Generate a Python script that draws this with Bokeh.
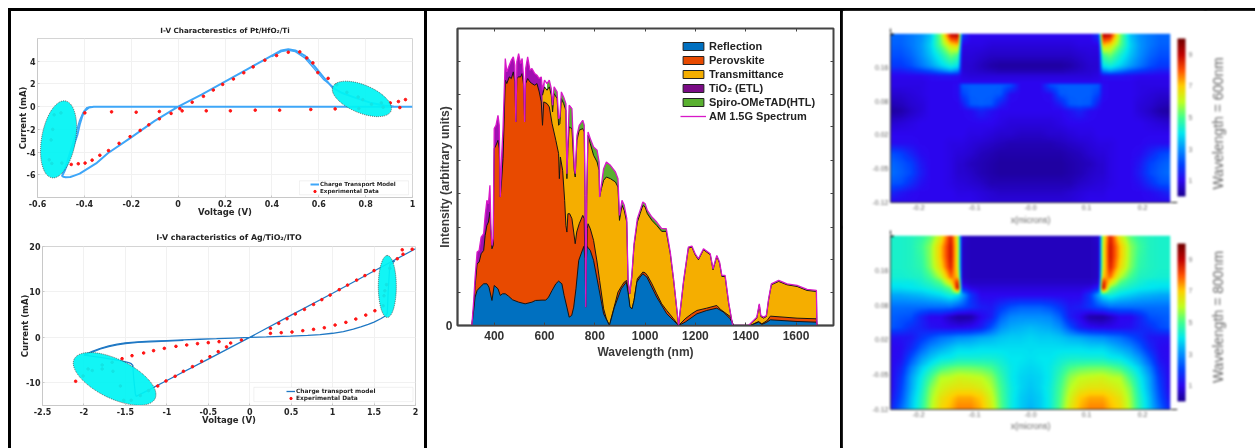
from bokeh.plotting import figure
from bokeh.layouts import row, column
from bokeh.models import (Spacer, Legend, LegendItem, Range1d, FixedTicker, LinearAxis, LinearColorMapper,
                          ColorBar, Arrow, NormalHead, BoxAnnotation)
from bokeh.embed import file_html
from bokeh.resources import INLINE
import numpy as np

# ---- Panel A1 : Pt/HfO2/Ti
m1_x = [1,0.6,0,-0.3,-0.36,-0.38,-0.40,-0.41,-0.42,-0.43,-0.45,-0.47,-0.485,-0.495,-0.49,-0.48,-0.46,-0.44,-0.42,-0.35,-0.3,-0.2,-0.1,0,0.1,0.2,0.3,0.4,0.44,0.47,0.5,0.54,0.58,0.62,0.66,0.7,0.76,0.82,0.88,0.92,1.0]
m1_y = [0,0,0,0,-0.01,-0.08,-0.4,-0.9,-1.6,-2.5,-3.7,-4.9,-5.7,-6.1,-6.18,-6.22,-6.2,-6.05,-5.9,-5.0,-4.1,-2.7,-1.25,0,1.05,2.2,3.35,4.5,4.95,5.05,4.95,4.5,3.6,2.6,1.65,1.2,0.75,0.35,0.1,0.02,0]
m1b_x = [-0.37,-0.39,-0.405,-0.42,-0.44,-0.46,-0.475,-0.495]
m1b_y = [0,-0.1,-0.5,-1.2,-2.6,-3.9,-4.9,-6.1]
m1c_x = [0.40,0.44,0.47,0.5,0.54,0.58,0.62,0.67]
m1c_y = [4.4,4.85,4.95,4.85,4.3,3.35,2.4,1.6]
e1_x = [0.97,0.94,0.905,0.946,0.875,0.825,0.867,0.788,0.768,0.72,0.677,0.64,0.596,0.575,0.549,0.519,0.47,0.42,0.37,0.32,0.28,0.236,0.19,0.15,0.108,0.06,0.017,0.007,-0.03,-0.08,-0.125,-0.162,-0.205,-0.252,-0.297,-0.334,-0.367,-0.397,-0.426,-0.456,-0.496,-0.539,-0.55,-0.542,-0.535,-0.529,-0.5,-0.398,-0.284,-0.179,-0.08,0.12,0.223,0.329,0.433,0.566,0.67,0.771]
e1_y = [0.62,0.45,0.33,-0.08,-0.05,0.21,0.33,0.62,0.85,1.26,1.93,2.49,3.0,3.85,4.29,4.82,4.79,4.5,4.09,3.5,2.98,2.43,1.96,1.46,0.91,0.39,-0.37,-0.17,-0.6,-1.07,-1.6,-2.09,-2.64,-3.23,-3.87,-4.28,-4.71,-4.97,-5.03,-5.09,-4.97,-5.0,-4.68,-2.93,-2.0,-0.72,-0.55,-0.55,-0.46,-0.49,-0.43,-0.37,-0.37,-0.31,-0.31,-0.25,-0.2,-0.17]
# ---- Panel A2 : Ag/TiO2/ITO
m2_x = [2,1.5,1,0.5,0,-0.5,-1,-1.2,-1.37,-1.38,-1.40,-1.41,-1.43,-1.46,-1.52,-1.6,-1.8,-2,-1.9,-1.8,-1.7,-1.6,-1.5,-1.35,-1.2,-1,-0.8,-0.6,-0.4,-0.2,0,0.2,0.49,0.7,0.85,1.0,1.13,1.25,1.34,1.43,1.5,1.58,1.64,1.66,1.67,1.69,1.75]
m2_y = [19.5,14.6,9.7,4.9,0,-4.8,-9.5,-11.4,-13.0,-12.4,-9,-6.2,-5.8,-5.55,-5.3,-5.0,-4.4,-3.9,-3.1,-2.4,-1.9,-1.5,-1.2,-1.0,-0.85,-0.7,-0.55,-0.42,-0.3,-0.15,0,0.1,0.29,0.45,0.62,0.9,1.25,1.8,2.3,2.85,3.35,4.1,4.76,5.3,10,16,16.8]
m2b_x = [-2,-1.9,-1.8,-1.7,-1.6,-1.5,-1.35,-1.2,-1,-0.8]
m2b_y = [-4.0,-3.25,-2.55,-2.05,-1.65,-1.35,-1.12,-0.98,-0.82,-0.65]
e2_x = [1.96,1.84,1.85,1.78,1.69,1.5,1.39,1.29,1.18,1.08,0.97,0.87,0.77,0.66,0.55,0.45,0.35,0.25,0.25,0.38,0.51,0.64,0.77,0.9,1.03,1.16,1.28,1.4,1.51,1.61,1.62,1.63,1.65,-0.1,-0.23,-0.28,-0.38,-0.48,-0.58,-0.69,-0.8,-0.9,-1.01,-1.11,-1.22,-1.32,-1.43,-1.52,-1.56,-1.65,-1.78,-1.78,-1.66,-1.54,-1.42,-1.28,-1.16,-1.03,-0.89,-0.76,-0.63,-0.5,-0.37,-1.9,-1.95,-2.01,-2.1]
e2_y = [19.4,19.27,18.3,17.3,15.2,14.7,13.6,12.6,11.5,10.5,9.3,8.3,7.25,6.15,5.13,4.1,3.08,1.98,0.88,1.03,1.17,1.47,1.76,2.12,2.71,3.3,4.03,4.9,5.86,6.96,9.16,10.26,11.6,-0.59,-1.25,-2.1,-3.15,-4.25,-5.27,-6.45,-7.47,-8.57,-9.6,-10.7,-11.72,-12.8,-13.85,-13.85,-10.7,-7.47,-6.96,-6.08,-5.5,-4.69,-4.03,-3.44,-2.93,-2.42,-1.98,-1.68,-1.39,-1.17,-0.95,-7.3,-6.96,-8.5,-9.67]

# ---- Panel B : spectrum, arbitrary units
am_wl = [311,319,324,332,340,348,358,364,371,377,383,387,391,396,400,407,415,420,424,429,435,444,450,460,468,476,482,486,490,497,505,511,517,521,525,533,542,550,561,570,579,587,592,600,610,619,627,632,638,650,656,661,667,676,685,689,693,698,709,718,722,729,738,752,758,761,764,768,773,782,795,809,817,819,826,835,846,862,882,892,898,908,917,927,932,939,947,956,969,980,991,1000,1009,1027,1046,1066,1084,1100,1113,1133,1153,1172,1186,1199,1212,1232,1259,1270,1285,1296,1305,1318,1332,1348,1411,1431,1444,1454,1460,1471,1482,1491,1502,1531,1564,1604,1644,1681,1683]
am_val = [0,80,145,220,225,265,275,330,375,365,420,290,240,260,590,600,630,600,385,500,590,800,760,780,795,805,780,610,790,815,785,800,740,610,770,805,765,770,755,750,740,745,705,735,725,735,710,660,715,700,620,625,700,685,665,455,550,660,650,480,455,570,600,615,600,400,55,400,580,560,535,525,490,385,420,470,490,480,460,440,330,375,360,320,135,95,150,245,320,345,370,365,345,325,310,290,290,220,140,0,135,235,238,215,200,230,215,170,210,190,150,150,70,0,0,15,25,65,30,25,30,80,125,135,125,120,108,105,0]
perov_wl = [311,319,324,332,340,348,358,364,371,377,383,387,391,396,400,407,415,420,424,429,435,444,450,460,468,476,482,486,490,497,505,511,517,521,525,533,542,550,561,570,579,587,592,597,610,619,630,645,656,659,663,672,680,685,689,693,700,709,716,722,728,738,752,758,761,764,767,770,773,782,795,809,819,835,846,858,868,882,892,908,917,927,932,939,948,956,969,980,991,1000,1009,1027,1046,1066,1086,1113,1133,1159,1185,1206,1245,1285,1300,1338,1352,1418,1451,1464,1484,1498,1604,1681,1683]
perov_val = [0,60,120,185,190,215,225,270,300,310,340,280,230,240,530,540,555,530,385,430,500,735,725,745,740,760,730,610,740,745,745,755,720,610,725,740,730,725,720,725,700,670,600,670,665,655,605,555,515,440,505,465,375,300,280,335,335,320,280,245,280,305,330,320,150,55,150,290,305,290,255,190,135,50,20,0,30,70,100,120,130,135,100,55,50,75,140,150,160,158,150,125,95,65,45,20,0,20,35,45,52,60,48,27,0,0,12,5,14,28,22,20,0]
trans_wl = [592,600,610,619,627,632,638,650,656,661,667,676,685,689,693,698,709,718,722,729,738,752,758,761,764,768,773,782,795,809,817,819,826,835,846,862,882,892,898,908,917,927,932,939,947,956,969,980,991,1000,1009,1027,1046,1066,1084,1100,1113,1133,1153,1172,1186,1199,1212,1232,1259,1270,1285,1296,1305,1318,1332,1348,1411,1431,1444,1454,1460,1471,1482,1491,1502,1531,1564,1604,1644,1681,1683]
trans_val = [690,715,705,715,690,640,695,680,600,605,680,665,645,440,530,595,590,465,445,555,585,590,580,390,55,390,570,545,510,490,465,385,410,435,445,440,430,415,315,360,345,310,135,95,145,240,310,335,360,355,335,315,300,282,282,215,137,0,132,232,235,212,197,227,212,167,207,187,147,147,67,0,0,13,22,62,27,22,27,77,122,132,122,117,105,102,0]
refl_wl = [311,319,324,332,344,358,371,379,391,400,415,424,433,444,457,473,497,523,550,564,590,605,616,630,645,656,669,678,689,698,708,716,725,736,756,761,764,767,769,782,795,815,835,858,878,905,925,932,940,948,956,967,980,991,1007,1046,1086,1113,1133,1159,1206,1245,1285,1312,1338,1352,1418,1451,1464,1484,1498,1604,1681,1683]
refl_val = [0,50,85,105,115,125,125,115,75,120,110,90,95,95,88,77,70,65,70,75,76,76,85,105,125,133,125,90,55,25,30,55,110,195,237,200,55,200,237,225,195,115,35,0,55,110,130,100,55,50,75,130,145,155,145,85,35,15,0,10,35,45,52,40,20,0,0,10,3,10,17,12,10,0]
legend_labels = ["Reflection", "Perovskite", "Transmittance", "TiO\u2082 (ETL)", "Spiro-OMeTAD(HTL)"]
legend_colors = ["#0070c0", "#e84a00", "#f5ae00", "#7a0c85", "#59b030"]

# ---- Panel C : field maps, left half (mirrored), top row first
map_cols = [-.25,-.232,-.214,-.196,-.179,-.161,-.143,-.130,-.123,-.107,-.089,-.071,-.054,-.036,-.018,0]
rows_600_y = [.227,.206,.186,.165,.152,.142,.129,.124,.104,.083,.07,.0425,.022,.0015,-.019,-.039,-.06,-.08,-.101,-.122]
field_600 = [
 [2.5,2.5,2.7,3,3.6,5.5,8.8,9,1.8,1,1,1,1,1,1,1],
 [2.4,2.4,2.7,3.1,3.8,5.2,6.6,7,.9,.9,.9,.8,.8,.8,.8,.8],
 [2.2,2.2,2.5,3,3.6,4.4,5.4,5,.8,.8,.7,.6,.6,.6,.6,.6],
 [1.9,1.9,2.2,2.7,3.2,3.8,4.3,4,.7,.7,.5,.3,.2,.2,.2,.2],
 [1.4,1.4,1.6,1.9,2.2,2.7,3.2,2.8,.8,.7,.6,.5,.4,.4,.4,.4],
 [1,1,1,1,1.1,1.2,1.2,1.1,.9,.8,.8,.8,.8,.8,.8,.8],
 [.9,.9,.9,.9,1,1,1,1,1,1,1,1,1,1,1,1],
 [.9,.9,.9,.9,1,1,1,1.1,2.3,2.4,2.4,2.4,2.4,2.2,1,1],
 [.7,.7,.8,.9,1,1,1,1.1,2.0,2.4,2.4,2.4,2.3,1.1,1,1],
 [.4,.5,.7,.8,1,1,1,1,1.3,2.3,2.4,2.3,1.4,1,1,1],
 [.2,.3,.6,.8,1,1,1,1,1,1.1,1.5,1.2,1,1,1,1],
 [.7,.8,.9,1,1,1,1,1,1,1,1,1,.9,.8,.8,.8],
 [1,1,1,1,1,1,1,1,1,.9,.9,.8,.7,.7,.6,.6],
 [1.1,1.1,1.1,1,1,1,.9,.9,.9,.8,.7,.6,.5,.4,.4,.4],
 [2.2,2,1.5,1.1,1,1,.9,.8,.8,.7,.5,.4,.3,.3,.3,.3],
 [2.5,2.3,2,1.3,1,1,.9,.7,.7,.5,.4,.3,.2,.2,.2,.2],
 [2.6,2.4,2.1,1.4,1,1,.9,.7,.7,.6,.4,.3,.2,.2,.2,.2],
 [2.3,2.2,1.7,1.2,1,1,.9,.8,.8,.7,.6,.4,.4,.4,.4,.4],
 [1.6,1.3,1.1,1,1,1,1,.9,.9,.9,.8,.7,.6,.6,.6,.6],
 [1,1,1,1,1,1,1,1,1,1,.9,.8,.8,.8,.8,.8],
]
rows_800_y = [.23,.209,.189,.168,.148,.134,.124,.110,.086,.066,.045,.025,.004,-.016,-.037,-.057,-.078,-.098,-.119]
field_800 = [
 [4.4,4.4,4.5,4.7,5.2,6.4,8.6,6,.7,.5,.5,.5,.5,.5,.5,.5],
 [4.4,4.4,4.5,4.9,5.6,7.1,8.8,6.2,.6,.5,.5,.5,.5,.5,.5,.5],
 [4.4,4.4,4.5,4.8,5.6,7.1,8.8,6.2,.6,.5,.5,.5,.5,.5,.5,.5],
 [4.4,4.4,4.5,4.7,5.5,6.8,8.6,6.3,.6,.5,.5,.5,.5,.5,.5,.5],
 [4.3,4.3,4.4,4.5,5,5.9,7.8,7,.6,.5,.5,.5,.5,.5,.5,.5],
 [4.1,4.1,4.1,4.3,4.6,5.1,6.6,8.8,.8,.6,.6,.6,.6,.6,.6,.6],
 [3.9,3.9,4,4.1,4.3,4.6,5.3,9.3,1.5,.9,.8,.8,.8,.8,.8,.8],
 [3.3,3.3,3.4,3.5,3.7,3.9,4.3,4,3.4,1.8,1,1,1,1,1,1],
 [2.6,2.6,2.6,2.6,2.6,2.6,2.6,2.3,2.2,1.8,1.4,1.3,1.8,2.2,2.4,2.4],
 [2.4,2.3,2.2,1.5,1,1,.5,.2,.2,.3,1,1.4,2.4,2.9,3,3],
 [2.3,2.1,1.7,1.5,1.2,1.1,1,1,1,1.1,1.4,2.2,3,3.3,3.4,3.5],
 [1.2,1.2,1.3,1.8,2.2,2.6,2.8,3,3,3.1,3.3,3.4,3.6,3.7,3.7,3.8],
 [1,1.1,1.6,2.4,3,3.3,3.6,3.8,3.8,3.8,3.9,3.9,3.9,3.9,3.9,3.9],
 [1,1.2,2.2,3.1,3.6,4,4.1,4.3,4.3,4.3,4.3,4.3,4.2,4,4,3.9],
 [1,1.5,2.8,3.7,4.3,4.9,5.2,5.3,5.3,5.3,5.2,5,4.5,4.1,3.9,3.8],
 [1,1.8,3.2,4.1,5,5.9,6,6.2,6.2,6.1,6,5.6,4.8,4.1,3.8,3.7],
 [1,2,3.3,4.3,5.5,6.2,6.5,6.6,6.6,6.6,6.4,5.9,5,4.2,3.8,3.6],
 [1.2,2.2,3.5,4.5,5.7,6.6,7,7.3,7.3,7.3,7,6.2,5.1,4.2,3.7,3.5],
 [1.5,2.5,3.6,4.6,5.8,6.8,7.2,7.6,7.6,7.6,7.2,6.4,5.2,4.2,3.7,3.4],
]
map_x_ticks = [-0.2, -0.1, 0.0, 0.1, 0.2]
map_x_labels = {-0.2: "-0.2", -0.1: "-0.1", 0.0: "-0.0", 0.1: "0.1", 0.2: "0.2"}
map_y_ticks = [-0.12, -0.05, 0.02, 0.09, 0.16]
map_y_labels = {-0.12: "-0.12", -0.05: "-0.05", 0.02: "0.02", 0.09: "0.08", 0.16: "0.16"}


def hy(vals):
    return {v: str(v) for v in vals}


def iv_panel(title, tsize, tstand, lines, ex, ey, xr, yr, xt, yt, ell, line_col, labels, w, h, bd, leg_loc, box, ylab_s):
    p = figure(width=w, height=h, x_range=Range1d(*xr), y_range=Range1d(*yr), output_backend="svg",
               toolbar_location=None, title=title, min_border_left=bd[0], min_border_right=bd[1],
               min_border_top=bd[2], min_border_bottom=bd[3], frame_align=False)
    p.title.text_font = "DejaVu Sans"
    p.title.text_font_size = tsize
    p.title.align = "center"
    p.title.text_color = "#222222"
    p.title.standoff = tstand
    p.xaxis.ticker = FixedTicker(ticks=xt)
    p.yaxis.ticker = FixedTicker(ticks=yt)
    p.xaxis.major_label_overrides = hy(xt)
    p.yaxis.major_label_overrides = hy(yt)
    p.xaxis.axis_label = "Voltage (V)"
    p.yaxis.axis_label = "Current (mA)"
    for ax in (p.xaxis[0], p.yaxis[0]):
        ax.major_label_text_font = "DejaVu Sans"
        ax.major_label_text_font_size = "8px"
        ax.major_label_text_font_style = "bold"
        ax.major_label_text_color = "#262626"
        ax.major_label_standoff = 2
        ax.major_tick_in = 2
        ax.major_tick_out = 0
        ax.minor_tick_line_color = None
        ax.axis_line_color = "#c8c8c8"
        ax.major_tick_line_color = "#c8c8c8"
        ax.axis_label_text_font = "DejaVu Sans"
        ax.axis_label_text_font_size = "8.5px"
        ax.axis_label_text_font_style = "bold"
        ax.axis_label_text_color = "#262626"
    p.xaxis[0].axis_label_standoff = -3
    p.yaxis[0].axis_label_standoff = ylab_s
    p.yaxis[0].major_label_orientation = "horizontal"
    p.outline_line_color = "#d4d4d4"
    p.grid.grid_line_color = "#f1f1f1"
    rs = [p.line(x, y, line_color=line_col, line_width=lw) for x, y, lw in lines]
    s = p.scatter(ex, ey, size=2.6, color="#ff1414", marker="circle")
    for (cx, cy, mw, mh, ang) in ell:
        p.ellipse([cx], [cy], width=mw, height=mh, angle=ang, angle_units="deg", width_units="screen", height_units="screen",
                  fill_color="#00f4f4", fill_alpha=0.93, line_color="#444444", line_dash="1 1", line_width=0.8)
    p.add_layout(BoxAnnotation(left=box[0], right=box[1], bottom=box[2], top=box[3], fill_color="white", fill_alpha=1,
                               line_color="#d0d0d0", line_width=1, level="overlay"))
    leg = Legend(items=[LegendItem(label=labels[0], renderers=[rs[0]]), LegendItem(label=labels[1], renderers=[s])],
                 location=leg_loc, label_text_font="DejaVu Sans", label_text_font_size=labels[2], label_text_font_style="bold",
                 label_height=6, glyph_height=6, glyph_width=9, label_standoff=1, spacing=1, padding=0, margin=0,
                 border_line_color=None, background_fill_alpha=0, label_text_color="#262626", level="overlay")
    p.add_layout(leg, "center")
    p.styles = {"filter": "blur(0.45px)"}
    return p


f1 = iv_panel("I-V Characterestics of Pt/HfO\u2082/Ti", "7.2px", 8, [(m1_x, m1_y, 2.0), (m1b_x, m1b_y, 1.4), (m1c_x, m1c_y, 1.4)],
              e1_x, e1_y, (-0.6, 1), (-8, 6),
              [-0.6, -0.4, -0.2, 0, 0.2, 0.4, 0.6, 0.8, 1], [-6, -4, -2, 0, 2, 4],
              [(-0.51, -2.88, 78, 34, 80), (0.784, 0.68, 63, 28, -22.6)], "#3ea6f8",
              ["Charge Transport Model", "Experimental Data", "5.6px"], 413, 214, (26, 12, 27, 28), (273, 3),
              (0.518, 0.983, -7.76, -6.53), -4)
f2 = iv_panel("I-V characteristics of Ag/TiO\u2082/ITO", "7.9px", 9, [(m2_x, m2_y, 1.3), (m2b_x, m2b_y, 1.3)],
              e2_x, e2_y, (-2.5, 2), (-15, 20),
              [-2.5, -2, -1.5, -1, -0.5, 0, 0.5, 1, 1.5, 2], [-10, 0, 10, 20],
              [(-1.63, -9.14, 90, 39, -26), (1.66, 11.2, 62, 18, 90)], "#1f78c4",
              ["Charge transport model", "Experimental Data", "5.9px"], 413, 223, (31, 9, 21, 43), (244, 4),
              (0.05, 1.97, -14.14, -11.0), -7)

# ---- spectrum
b = figure(width=413, height=437, x_range=Range1d(254, 1749), y_range=Range1d(0, 890), output_backend="svg",
           toolbar_location=None, min_border_left=30, min_border_right=7, min_border_top=17, min_border_bottom=123)
am_w, am_v = np.array(am_wl), np.array(am_val)
low = am_w <= 600
b.varea(am_w[low], 0, am_v[low], fill_color="#a010b0")
b.varea(am_w[~low], 0, am_v[~low], fill_color=legend_colors[4])
for xs, ys, col in [(trans_wl, trans_val, legend_colors[2]), (perov_wl, perov_val, legend_colors[1]), (refl_wl, refl_val, legend_colors[0])]:
    b.varea(xs, 0, ys, fill_color=col)
    b.line(xs, ys, line_color="#151515", line_width=1)
am_line = b.line(am_w, am_v, line_color="#d818c8", line_width=1.3)
nan = [float("nan")]
items = []
for lab, col in zip(legend_labels, legend_colors):
    q = b.quad(left=nan, right=nan, top=nan, bottom=nan, fill_color=col, line_color="#222222", line_width=1)
    items.append(LegendItem(label=lab, renderers=[q]))
items.append(LegendItem(label="AM 1.5G Spectrum", renderers=[am_line]))
blg = Legend(items=items, location=(223, 203), label_text_font="Liberation Sans", label_text_font_style="bold",
             label_text_font_size="11px", label_text_color="#222222", glyph_width=26, glyph_height=10, label_height=10,
             label_standoff=3, spacing=2, padding=0, margin=0, border_line_color=None, background_fill_alpha=0)
b.add_layout(blg, "center")
xt = [400, 600, 800, 1000, 1200, 1400, 1600]
yt = [99, 197, 295, 395, 495, 595, 693, 792]
b.xaxis.ticker = FixedTicker(ticks=xt)
b.yaxis.ticker = FixedTicker(ticks=[0], minor_ticks=yt)
b.xaxis.axis_label = "Wavelength (nm)"
b.yaxis.axis_label = "Intensity (arbitrary units)"
for ax in (b.xaxis[0], b.yaxis[0]):
    ax.major_label_text_font = "Liberation Sans"
    ax.major_label_text_font_size = "12px"
    ax.major_label_text_font_style = "bold"
    ax.major_label_text_color = "#333333"
    ax.major_label_standoff = 5
    ax.major_tick_in = 3
    ax.major_tick_out = 0
    ax.minor_tick_in = 3
    ax.minor_tick_out = 0
    ax.minor_tick_line_color = "#444444"
    ax.axis_line_color = "#444444"
    ax.axis_line_width = 1.5
    ax.major_tick_line_color = "#444444"
    ax.axis_label_text_font = "Liberation Sans"
    ax.axis_label_text_font_size = "12px"
    ax.axis_label_text_font_style = "bold"
    ax.axis_label_text_color = "#3a3a3a"
b.xaxis[0].axis_label_standoff = 2
b.yaxis[0].axis_label_standoff = -9
b.yaxis[0].major_label_orientation = "horizontal"
b.outline_line_color = "#444444"
b.outline_line_width = 2
b.grid.grid_line_color = None
b.add_layout(LinearAxis(ticker=FixedTicker(ticks=[], minor_ticks=xt), minor_tick_in=3, minor_tick_out=0, major_tick_line_color=None,
                        axis_line_color="#444444", minor_tick_line_color="#444444"), "above")
b.add_layout(LinearAxis(ticker=FixedTicker(ticks=[], minor_ticks=yt), minor_tick_in=3, minor_tick_out=0, major_tick_line_color=None,
                        axis_line_color="#444444", minor_tick_line_color="#444444"), "right")
b.styles = {"filter": "blur(0.5px)"}

# ---- field maps
stops = ["#1c0090", "#2c06f0", "#0040ff", "#0090ff", "#00e8f0", "#40ff90", "#c0ff20", "#ffd000", "#ff5000", "#c00000", "#700000"]
rgb = np.array([[int(c[i:i + 2], 16) for i in (1, 3, 5)] for c in stops], float)
pos = np.linspace(0, 10, len(stops))
palette = ["#%02x%02x%02x" % tuple(int(np.interp(t, pos, rgb[:, k])) for k in range(3)) for t in np.linspace(0, 10, 256)]


def display_grid(rows, ys):
    # The image glyph has no smoothing: resample the typed map for display, as shading would.
    half = np.array(rows, float)
    xs = np.array(map_cols + [-v for v in map_cols[-2::-1]])
    full = np.hstack([half, half[:, -2::-1]])
    fx = np.linspace(-0.25, 0.25, 281)
    fy = np.linspace(-0.12, 0.23, 176)
    a = np.array([np.interp(fx, xs, r) for r in full])
    y_up = np.array(ys)[::-1]
    a = a[::-1]
    return np.array([np.interp(fy, y_up, a[:, j]) for j in range(a.shape[1])]).T


def map_panel(rows, ys, w, h, bd, cb_loc, xlab_s):
    m = LinearColorMapper(palette=palette, low=0, high=10)
    p = figure(width=w, height=h, x_range=Range1d(-0.25, 0.25), y_range=Range1d(-0.12, 0.23), output_backend="svg", frame_align=False,
               toolbar_location=None, min_border_left=bd[0], min_border_right=bd[1], min_border_top=bd[2], min_border_bottom=bd[3])
    p.image(image=[display_grid(rows, ys)], x=-0.25, y=-0.12, dw=0.5, dh=0.35, color_mapper=m)
    p.xaxis.ticker = FixedTicker(ticks=map_x_ticks)
    p.yaxis.ticker = FixedTicker(ticks=map_y_ticks)
    p.xaxis.major_label_overrides = map_x_labels
    p.yaxis.major_label_overrides = map_y_labels
    p.xaxis.axis_label = "x(microns)"
    for ax in (p.xaxis[0], p.yaxis[0]):
        ax.major_label_text_font = "Liberation Sans"
        ax.major_label_text_font_size = "7px"
        ax.major_label_text_color = "#666666"
        ax.major_label_standoff = 2
        ax.major_tick_in = 0
        ax.major_tick_out = 0
        ax.minor_tick_line_color = None
        ax.axis_line_color = "#333333"
        ax.axis_label_text_font = "Liberation Sans"
        ax.axis_label_text_font_size = "8.5px"
        ax.axis_label_text_font_style = "normal"
        ax.axis_label_text_color = "#666666"
    p.xaxis[0].axis_label_standoff = xlab_s
    p.yaxis[0].major_label_orientation = "horizontal"
    p.outline_line_color = None
    p.grid.grid_line_color = None
    cb = ColorBar(color_mapper=m, width=8, height=158, location=cb_loc, padding=0, margin=0, major_tick_in=0,
                  major_label_text_font_size="7px", major_label_text_color="#777777", background_fill_alpha=0,
                  ticker=FixedTicker(ticks=[1, 3, 5, 7, 9]), bar_line_color=None, label_standoff=3)
    p.add_layout(cb, "center")
    for xs, ys2, xe, ye in [(-0.25, 0.232, -0.25, 0.24), (0.25, -0.12, 0.262, -0.12)]:
        p.add_layout(Arrow(end=NormalHead(size=6, fill_color="#111111", line_color="#111111"), x_start=xs, y_start=ys2, x_end=xe, y_end=ye,
                           line_color="#111111", line_width=1))
    p.styles = {"filter": "blur(0.8px)"}
    return p


def caption(text, w, h, top, bottom):
    # A narrow companion figure whose left axis carries the upward-reading caption.
    p = figure(width=w, height=h, x_range=Range1d(0, 1), y_range=Range1d(0, 1), output_backend="svg", frame_align=False,
               toolbar_location=None, x_axis_location=None, min_border_left=20, min_border_right=0, min_border_top=top, min_border_bottom=bottom)
    p.outline_line_color = None
    p.grid.grid_line_color = None
    ax = p.yaxis[0]
    ax.ticker = FixedTicker(ticks=[])
    ax.axis_line_color = None
    ax.major_tick_line_color = None
    ax.minor_tick_line_color = None
    ax.axis_label = text
    ax.axis_label_text_font = "Liberation Sans"
    ax.axis_label_text_font_size = "14px"
    ax.axis_label_text_font_style = "normal"
    ax.axis_label_text_color = "#666666"
    ax.axis_label_standoff = 0
    p.styles = {"filter": "blur(0.8px)"}
    return p


c1 = map_panel(field_600, rows_600_y, 362, 216, (47, 35, 22, 24), (287, 6), 2)
c2 = map_panel(field_800, rows_800_y, 362, 221, (47, 35, 8, 39), (287, 8), 1)
cap1 = caption("Wavelength = 600nm", 50, 216, 32, 24)
cap2 = caption("Wavelength = 800nm", 50, 221, 8, 50)


def bar(w, h):
    return Spacer(width=w, height=h, styles={"background-color": "#000000"})


layout = column(Spacer(width=1255, height=8),
                row(Spacer(width=8, height=440),
                    column(bar(1247, 3),
                           row(bar(3, 437), column(f1, f2, spacing=0), bar(3, 437), b, bar(3, 437),
                               column(row(c1, cap1, spacing=0), row(c2, cap2, spacing=0), spacing=0), spacing=0),
                           spacing=0),
                    spacing=0),
                spacing=0)
open("out.html", "w").write(file_html(layout, INLINE))
